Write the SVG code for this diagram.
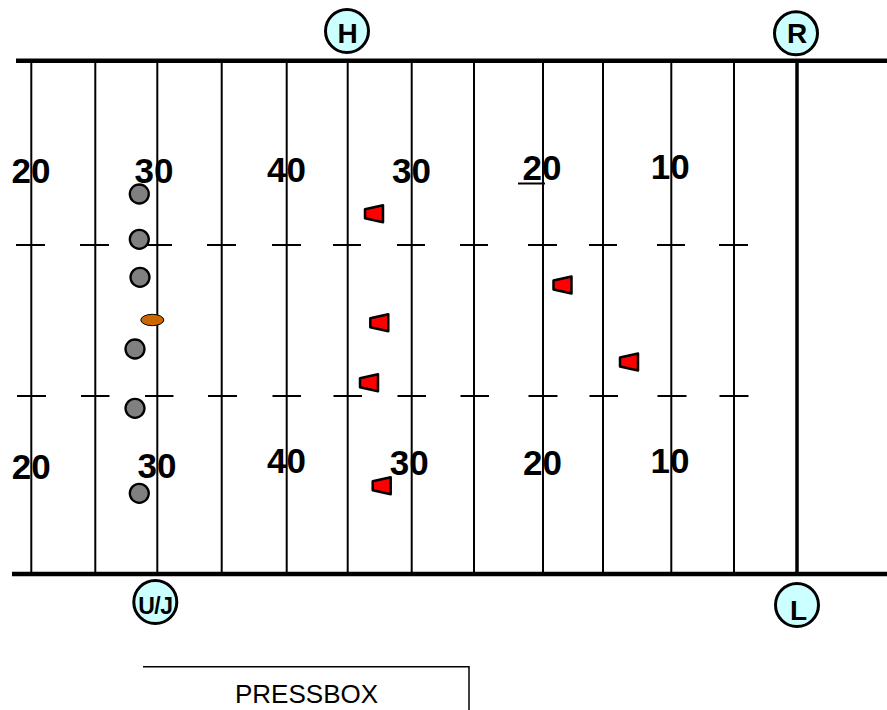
<svg xmlns="http://www.w3.org/2000/svg" xmlns:xlink="http://www.w3.org/1999/xlink" width="887" height="710" viewBox="0 0 887 710">
<style>
.side{stroke:#000;stroke-width:4.5;fill:none}
.yl{stroke:#000;stroke-width:2;fill:none}
.hash{stroke:#000;stroke-width:1.8;fill:none}
.num{font-family:"Liberation Sans",Arial,sans-serif;font-weight:bold;font-size:35px;fill:#000;text-anchor:middle}
.off circle{fill:#CCFFFF;stroke:#000;stroke-width:3}
.off text{font-family:"Liberation Sans",Arial,sans-serif;font-weight:bold;font-size:28px;fill:#000;text-anchor:middle}
.player{fill:#808080;stroke:#000;stroke-width:2.3}
.def{fill:#FF0000;stroke:#000;stroke-width:2.5;stroke-linejoin:round}
.pb{stroke:#000;stroke-width:1.5;fill:none}
.pbt{font-family:"Liberation Sans",Arial,sans-serif;font-size:26px;fill:#000}
</style>
<defs>
<polygon id="trap" class="def" points="-9,-4.5 9,-8.5 9,8.5 -9,4.5"/>
</defs>
<rect width="887" height="710" fill="#fff"/>

<g id="field">
<g id="yardlines">
<line class="yl" x1="31.3" y1="60" x2="31.3" y2="574"/>
<line class="yl" x1="95.3" y1="60" x2="95.3" y2="574"/>
<line class="yl" x1="157.3" y1="60" x2="157.3" y2="574"/>
<line class="yl" x1="221.7" y1="60" x2="221.7" y2="574"/>
<line class="yl" x1="286.7" y1="60" x2="286.7" y2="574"/>
<line class="yl" x1="347.7" y1="60" x2="347.7" y2="574"/>
<line class="yl" x1="411.7" y1="60" x2="411.7" y2="574"/>
<line class="yl" x1="474" y1="60" x2="474" y2="574"/>
<line class="yl" x1="543" y1="60" x2="543" y2="574"/>
<line class="yl" x1="603" y1="60" x2="603" y2="574"/>
<line class="yl" x1="671.3" y1="60" x2="671.3" y2="574"/>
<line class="yl" x1="734" y1="60" x2="734" y2="574"/>
<line x1="797" y1="60" x2="797" y2="574" stroke="#000" stroke-width="3.5"/>
</g>
<g id="hashes">
<path class="hash" d="M16,245H45M80,245H109M145,245H172M207,245H236M272,245H301M333,245H361M397,245H425M460,245H488M528,245H557M589,245H617M657,245H685M719,245H748"/>
<path class="hash" d="M17,396H46M81,396H109.5M145,396H173.5M208,396H237M272.5,396H301M333.5,396H362M397.5,396H426M460.5,396H489M528.5,396H557.5M589.5,396H618M657.5,396H686.5M719.5,396H748.5"/>
</g>
<line class="side" x1="16" y1="60.8" x2="887" y2="60.8"/>
<line class="side" x1="12" y1="574" x2="887" y2="574"/>
<g id="numbers">
<text class="num" x="31" y="183">20</text>
<text class="num" x="154" y="183">30</text>
<text class="num" x="286.5" y="182">40</text>
<text class="num" x="411.4" y="183">30</text>
<text class="num" x="542" y="180">20</text>
<line x1="518" y1="183.5" x2="545" y2="183.5" stroke="#000" stroke-width="2"/>
<text class="num" x="670.3" y="179">10</text>
<text class="num" x="31.3" y="479">20</text>
<text class="num" x="157" y="478">30</text>
<text class="num" x="286.5" y="473">40</text>
<text class="num" x="409.3" y="475">30</text>
<text class="num" x="542.5" y="475">20</text>
<text class="num" x="670" y="473">10</text>
</g>
</g>

<g id="offense">
<circle id="p1" class="player" cx="139.3" cy="194" r="9.5"/>
<circle id="p2" class="player" cx="139.3" cy="239.3" r="9.5"/>
<circle id="p3" class="player" cx="140" cy="277.3" r="9.5"/>
<ellipse id="ball" cx="152.3" cy="320" rx="11.5" ry="5.7" fill="#CC6600" stroke="#000" stroke-width="1"/>
<circle id="p4" class="player" cx="135" cy="349" r="9.5"/>
<circle id="p5" class="player" cx="135" cy="408.3" r="9.5"/>
<circle id="p6" class="player" cx="139.3" cy="493.3" r="9.5"/>
</g>

<g id="defense">
<use id="d1" xlink:href="#trap" href="#trap" x="374" y="213.7"/>
<use id="d2" xlink:href="#trap" href="#trap" x="379.3" y="322.7"/>
<use id="d3" xlink:href="#trap" href="#trap" x="369" y="382.7"/>
<use id="d4" xlink:href="#trap" href="#trap" x="381.7" y="485.8"/>
<use id="d5" xlink:href="#trap" href="#trap" x="562.5" y="285"/>
<use id="d6" xlink:href="#trap" href="#trap" x="629" y="362"/>
</g>

<g id="official-H" class="off"><circle cx="347" cy="31" r="21.5"/><text x="347.5" y="42.5">H</text></g>
<g id="official-R" class="off"><circle cx="796" cy="33.3" r="21.5"/><text x="797" y="43">R</text></g>
<g id="official-UJ" class="off"><circle cx="155.3" cy="602" r="21.5"/><text x="155.3" y="614" style="font-size:23px;letter-spacing:-0.5px">U/J</text></g>
<g id="official-L" class="off"><circle cx="797" cy="605" r="21.5"/><text x="798.5" y="619.5">L</text></g>

<g id="pressbox">
<path class="pb" d="M143,666.7H469V710"/>
<text class="pbt" x="235" y="703">PRESSBOX</text>
</g>
</svg>
